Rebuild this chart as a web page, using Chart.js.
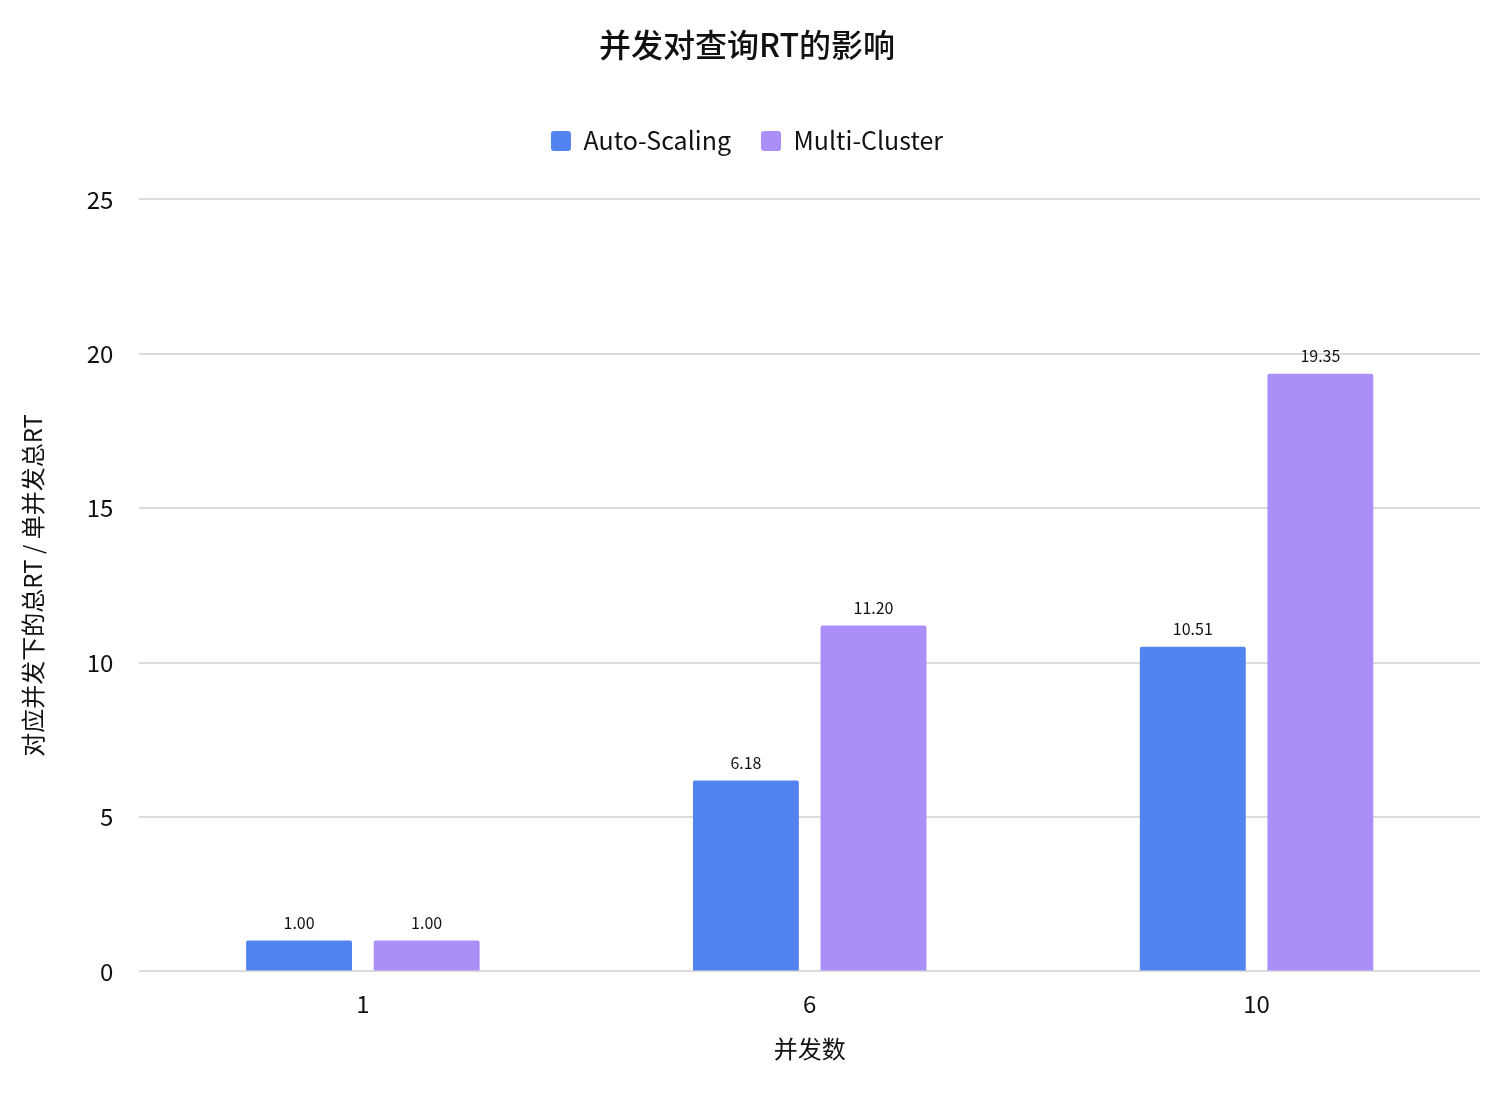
<!DOCTYPE html>
<html><head><meta charset="utf-8">
<script src="https://cdn.jsdelivr.net/npm/chart.js@4"></script>
<style>html,body{margin:0;padding:0;background:#fff}#w{width:1500px;height:1102px}</style>
</head><body><div id="w"><canvas id="c"></canvas></div>
<script>
const categories = ["1","6","10"];
const autoScaling = [1.00, 6.18, 10.51];
const multiCluster = [1.00, 11.20, 19.35];
const yTicks = [0,5,10,15,20,25];
const FONT = "'Noto Sans CJK SC','Noto Sans',sans-serif";

const labelPlugin = {
  id:'labels',
  afterDatasetsDraw(chart){
    const ctx = chart.ctx;
    ctx.save();
    ctx.font = "16px " + FONT;
    ctx.fillStyle = "#111";
    ctx.textAlign = "center";
    ctx.textBaseline = "bottom";
    chart.data.datasets.forEach((ds,i)=>{
      chart.getDatasetMeta(i).data.forEach((bar,j)=>{
        ctx.fillText(ds.data[j].toFixed(2), bar.x, bar.y - 10);
      });
    });
    ctx.restore();
  }
};
const legendPad = {
  id:'lgpad',
  beforeInit(chart){
    const lg = chart.legend; const f = lg.fit;
    lg.fit = function(){ f.call(this); this.height += 36; };
  }
};

new Chart(document.getElementById('c'), {
  type:'bar',
  data:{
    labels:categories,
    datasets:[
      {label:'Auto-Scaling', data:autoScaling, backgroundColor:'#5283F0', borderRadius:2, borderSkipped:'bottom'},
      {label:'Multi-Cluster', data:multiCluster, backgroundColor:'#A98FF7', borderRadius:2, borderSkipped:'bottom'}
    ]
  },
  options:{
    responsive:true, maintainAspectRatio:false, animation:false,
    categoryPercentage:0.571, barPercentage:0.83,
    layout:{padding:{left:14,right:20,top:26,bottom:35}},
    plugins:{
      title:{display:true, text:'并发对查询RT的影响', color:'#111', font:{family:FONT,size:32,weight:'500'}, padding:{top:0,bottom:34}},
      legend:{labels:{color:'#111', font:{family:FONT,size:25}, boxWidth:20, boxHeight:20, useBorderRadius:true, borderRadius:3, padding:30}},
      tooltip:{enabled:false}
    },
    scales:{
      x:{grid:{display:false}, border:{display:false},
         ticks:{color:'#111', font:{family:FONT,size:24}, padding:10},
         title:{display:true, text:'并发数', color:'#111', font:{family:FONT,size:24}, padding:{top:6}}},
      y:{min:0, max:25, afterBuildTicks(s){s.ticks = yTicks.map(v=>({value:v}));},
         grid:{color:'#dcdcdc', lineWidth:2, drawTicks:false}, border:{display:false},
         ticks:{color:'#111', font:{family:FONT,size:24}, padding:26},
         title:{display:true, text:'对应并发下的总RT / 单并发总RT', color:'#111', font:{family:FONT,size:24}, padding:{bottom:14}}}
    }
  },
  plugins:[labelPlugin, legendPad]
});
</script></body></html>
